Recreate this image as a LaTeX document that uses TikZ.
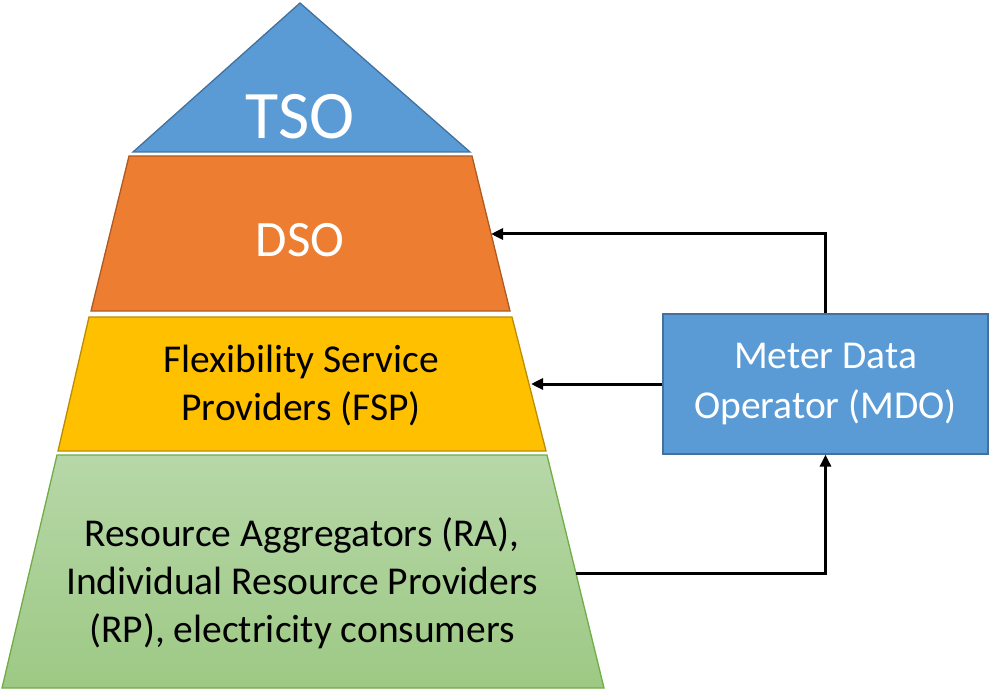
\documentclass[tikz,border=0pt]{standalone}
\usepackage{fontspec}
\setmainfont{Carlito}
\usetikzlibrary{arrows.meta}

\definecolor{tsoblue}{HTML}{5B9BD5}
\definecolor{tsoline}{HTML}{41719C}
\definecolor{dsoorange}{HTML}{ED7D31}
\definecolor{dsoline}{HTML}{AE5A21}
\definecolor{fspyellow}{HTML}{FFC000}
\definecolor{fspline}{HTML}{BC8C00}
\definecolor{rptop}{HTML}{B7D7A8}
\definecolor{rpbottom}{HTML}{9DC984}
\definecolor{rpline}{HTML}{70AD47}

\begin{document}
\begin{tikzpicture}[x=1pt, y=-1pt,
	layer/.style={line width=1.3pt, line join=miter},
	link/.style={line width=3pt, -{Triangle[length=12pt, width=11pt]}},
	lbl/.style={align=center, font=\fontsize{39.5}{48}\selectfont}]
	\useasboundingbox (0,0) rectangle (989,690);
	% pyramid layers
	\draw[layer, draw=tsoline, fill=tsoblue] (300,3) -- (470,152) -- (133,152) -- cycle;
	\draw[layer, draw=dsoline, fill=dsoorange] (129,156) -- (472,156) -- (510,311) -- (91,311) -- cycle;
	\draw[layer, draw=fspline, fill=fspyellow] (89,317) -- (512,317) -- (546,451) -- (58,451) -- cycle;
	\shade[top color=rptop, bottom color=rpbottom] (57,455) -- (547,455) -- (604,688) -- (2,688) -- cycle;
	\draw[layer, draw=rpline] (57,455) -- (547,455) -- (604,688) -- (2,688) -- cycle;
	% labels
	\node[lbl, white, font=\fontsize{68}{72}\selectfont] (tso) at (300,117) {TSO};
	\node[lbl, white, font=\fontsize{51}{58}\selectfont] (dso) at (300,240) {DSO};
	\node[lbl] (fsp) at (301,386) {Flexibility Service\\Providers (FSP)};
	\node[lbl] (rp) at (302,583) {Resource Aggregators (RA),\\Individual Resource Providers\\(RP), electricity consumers};
	\node[lbl, white, font=\fontsize{39.5}{50}\selectfont, draw=tsoline, line width=1.3pt, fill=tsoblue,
		minimum width=325pt, minimum height=140pt] (mdo) at (825.5,384) {Meter Data\\Operator (MDO)};
	% edge points
	\coordinate (dso-e) at (491,234);
	\coordinate (fsp-e) at (531,384);
	\coordinate (rp-e) at (576,573);
	% data flows
	\draw[link] (mdo.north) |- (dso-e);
	\draw[link] (mdo.west) -- (fsp-e);
	\draw[link] (rp-e) -| (mdo.south);
\end{tikzpicture}
\end{document}
